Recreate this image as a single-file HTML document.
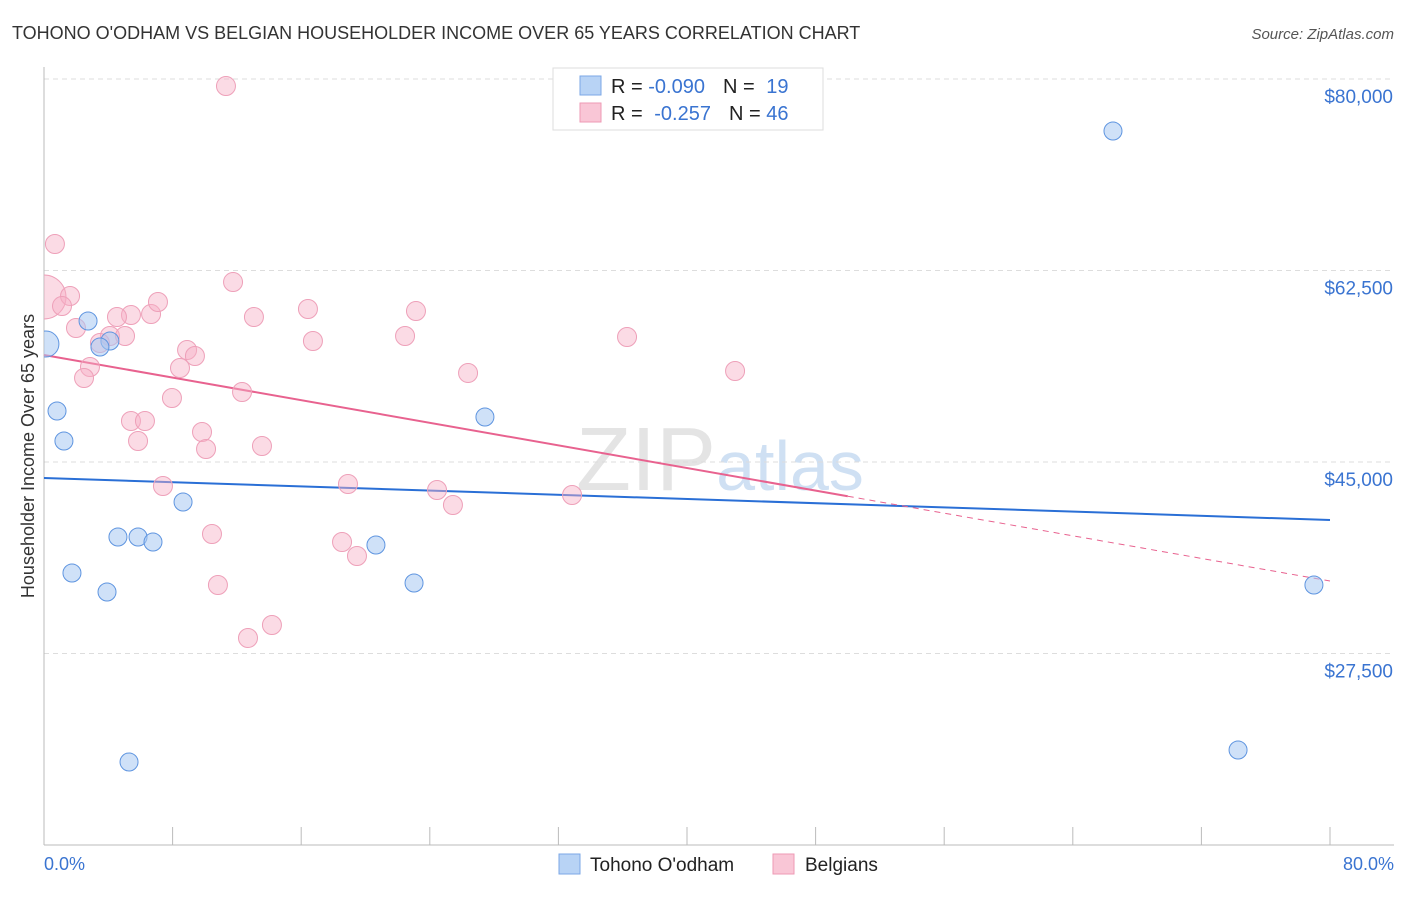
<!DOCTYPE html>
<html><head><meta charset="utf-8"><style>
body{margin:0;background:#fff;font-family:"Liberation Sans",sans-serif;}
svg text{font-family:"Liberation Sans",sans-serif;}
</style></head><body>
<svg id="chart" width="1406" height="892" xmlns="http://www.w3.org/2000/svg">
<defs><clipPath id="plotclip"><rect x="44" y="60" width="1360" height="785"/></clipPath></defs>
<text x="12" y="39" font-size="18" fill="#333">TOHONO O'ODHAM VS BELGIAN HOUSEHOLDER INCOME OVER 65 YEARS CORRELATION CHART</text>
<text x="1394" y="39" font-size="15" fill="#555" text-anchor="end" font-style="italic">Source: ZipAtlas.com</text>
<text x="720" y="490" font-size="90" fill="#e4e4e4" text-anchor="middle" font-family="Liberation Serif">ZIP<tspan fill="#cfe0f3" font-family="Liberation Sans" font-size="70">atlas</tspan></text>
<g id="grid"></g>
<g id="axes"></g>
<g id="trend"></g>
<g id="pts" clip-path="url(#plotclip)"></g>
<text transform="translate(34,456) rotate(-90)" font-size="18" fill="#333" text-anchor="middle">Householder Income Over 65 years</text>
<text x="44" y="870" font-size="18" fill="#3a74d1">0.0%</text>
<text x="1394" y="870" font-size="18" fill="#3a74d1" text-anchor="end">80.0%</text>
<g>
<rect x="553" y="68" width="270" height="62" fill="#fff" stroke="#ddd"/>
<rect x="580" y="76" width="21" height="19" fill="#b8d3f5" stroke="#7ba7e6"/>
<rect x="580" y="103" width="21" height="19" fill="#f9c6d6" stroke="#ee9ab4"/>
<text x="611" y="93" font-size="20" fill="#222">R = <tspan fill="#3a74d1">-0.090</tspan><tspan dx="18">N = </tspan><tspan dx="6" fill="#3a74d1">19</tspan></text>
<text x="611" y="120" font-size="20" fill="#222">R = <tspan dx="6" fill="#3a74d1">-0.257</tspan><tspan dx="18">N = </tspan><tspan fill="#3a74d1">46</tspan></text>
</g>
<g>
<rect x="559" y="854" width="21" height="20" fill="#b8d3f5" stroke="#7ba7e6"/>
<text x="590" y="871" font-size="19" fill="#222">Tohono O'odham</text>
<rect x="773" y="854" width="21" height="20" fill="#f9c6d6" stroke="#ee9ab4"/>
<text x="805" y="871" font-size="19" fill="#222">Belgians</text>
</g>
</svg>
<script>
const yTicks=[27500,45000,62500,80000];
const yTickLabels=["$27,500","$45,000","$62,500","$80,000"];
const blueX=[0.12,4.1,2.74,3.48,0.81,1.24,4.6,5.85,6.78,8.65,1.74,3.92,5.29,20.65,23.02,27.43,66.5,79.0,74.28];
const blueY=[55783,56057,57885,55509,49660,46919,38146,38146,37690,41345,34857,33120,17586,37415,33943,49112,75247,33760,18682];
const pinkX=[0.68,0,1.62,1.12,1.99,4.1,5.41,4.54,5.04,2.86,2.49,6.66,7.09,8.9,9.39,8.46,7.96,11.76,13.06,16.42,16.73,12.32,5.41,6.28,5.85,9.83,10.08,13.56,7.4,11.32,10.45,10.82,12.69,14.18,18.54,19.47,18.91,22.46,23.14,24.45,25.44,26.38,32.85,36.27,42.99,3.48];
const pinkY=[64921,60078,60169,59255,57245,56514,58433,58250,56514,53681,52676,58524,59621,55235,54686,53590,50848,61448,58250,58981,56057,51397,48747,48747,46919,47741,46188,46462,42807,79359,38421,33760,28917,30105,37690,36410,42990,56514,58798,42441,41071,53133,41984,56423,53316,55874];
const blueTrend=[43540,39700];
const pinkTrend=[54780,34125];
const pinkSolidEnd=50;
const X=p=>44+p*(1330-44)/80;
const Y=v=>462-(v-45000)*191.5/17500;
const NS="http://www.w3.org/2000/svg";
function mk(tag,parent,attrs){const e=document.createElementNS(NS,tag);for(const k in attrs)e.setAttribute(k,attrs[k]);document.getElementById(parent).appendChild(e);return e;}
yTicks.forEach((t,i)=>{
 const l=mk('line','grid',{x1:44,x2:1394,y1:Y(t),y2:Y(t),stroke:'#ddd','stroke-dasharray':'5,4'});
 
 
 const tx=mk('text','grid',{x:1393,y:Y(t)+24,'font-size':19,fill:'#3a74d1','text-anchor':'end'});
 tx.textContent=yTickLabels[i];
 
 
});
let a=mk('line','axes',{x1:44,x2:44,y1:67,y2:845,stroke:'#bbb'});


a=mk('line','axes',{x1:44,x2:1394,y1:845,y2:845,stroke:'#bbb'});


for(let i=0;i<=10;i++){const t=mk('line','axes',{x1:X(i*8),x2:X(i*8),y1:827,y2:845,stroke:'#bbb'});
 
 }
function line(x1,v1,x2,v2,color,w,dash,name){const l=mk('line','trend',{x1:X(x1),y1:Y(v1),x2:X(x2),y2:Y(v2),stroke:color,'stroke-width':w});if(dash)l.setAttribute('stroke-dasharray',dash);
 
 }
line(0,blueTrend[0],80,blueTrend[1],'#2a6fd6',2,null,'tohono-trend-line');
const pAt=p=>pinkTrend[0]+(pinkTrend[1]-pinkTrend[0])*p/80;
line(0,pinkTrend[0],pinkSolidEnd,pAt(pinkSolidEnd),'#e8628f',2,null,'belgians-trend-line');
line(pinkSolidEnd,pAt(pinkSolidEnd),80,pinkTrend[1],'#e8628f',1,'6,5','belgians-trend-extension');
pinkX.forEach((x,i)=>{const c=mk('circle','pts',{cx:X(x),cy:Y(pinkY[i]),r:(x===0?22:9.5),fill:'rgba(246,175,198,0.45)',stroke:'#eea0b9','stroke-width':1});
 
 });
blueX.forEach((x,i)=>{const c=mk('circle','pts',{cx:X(x),cy:Y(blueY[i]),r:(x<0.5?13:9),fill:'rgba(168,200,243,0.55)',stroke:'#5f95e0','stroke-width':1});
 
 });
</script>
</body></html>
